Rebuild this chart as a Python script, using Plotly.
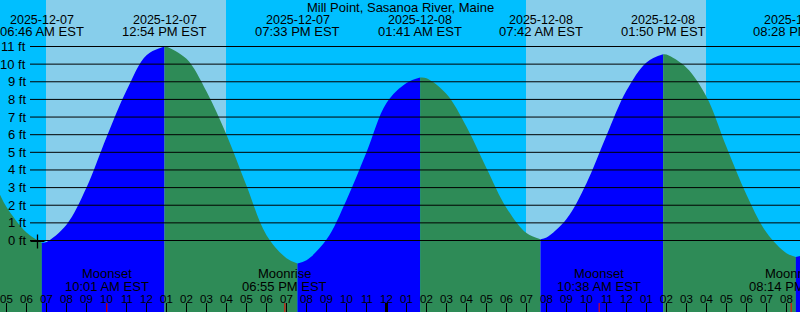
import plotly.graph_objects as go

# ---------------- data ----------------
title_text = "Mill Point, Sasanoa River, Maine"

# hours counted from 2025-12-07 00:00 EST
hours = [4.675, 5, 6, 6.767, 7, 8, 9, 10, 11, 12, 12.9, 13, 14, 15, 16, 17, 18, 19,
         19.55, 20, 21, 22, 23, 24, 25, 25.683, 26, 27, 28, 29, 30, 31, 31.7, 32,
         33, 34, 35, 36, 37, 37.833, 38, 39, 40, 41, 42, 43, 44, 44.467, 44.675]
heights_ft = [2.6, 1.9, 0.45, -0.13, -0.08, 0.9, 3.0, 5.85, 8.5, 10.5, 11.0, 10.99,
              10.3, 8.45, 6.0, 3.1, 0.3, -1.0, -1.3, -1.12, 0.05, 2.3, 5.0, 7.8, 8.93,
              9.24, 9.2, 8.3, 6.45, 4.1, 1.85, 0.42, 0.07, 0.17, 1.22, 3.25, 5.95, 8.5,
              10.1, 10.56, 10.54, 9.8, 8.15, 5.3, 2.6, 0.45, -0.72, -0.93, -0.88]

extreme_hours = [6.767, 12.9, 19.55, 25.683, 31.7, 37.833, 44.467]
extreme_dates = ["2025-12-07", "2025-12-07", "2025-12-07", "2025-12-08",
                 "2025-12-08", "2025-12-08", "2025-12-08"]
extreme_times = ["06:46 AM EST", "12:54 PM EST", "07:33 PM EST", "01:41 AM EST",
                 "07:42 AM EST", "01:50 PM EST", "08:28 PM EST"]

sunrise_hours = [6.975, 30.975]
sunset_hours = [15.975, 39.975]

moon_hours = [10.017, 18.917, 34.633, 44.233]
moon_events = ["Moonset", "Moonrise", "Moonset", "Moonrise"]
moon_times = ["10:01 AM EST", "06:55 PM EST", "10:38 AM EST", "08:14 PM EST"]

level_ticks = list(range(0, 12))
level_labels = [f"{v} ft" for v in level_ticks]

hour_ticks = list(range(5, 45))
hour_labels = [f"{(h % 12) or 12:02d}" for h in hour_ticks]
midnight_hours = [24]

now_marker_hour = [6.55]
now_marker_ft = [-0.05]

# ---------------- styling ----------------
W, H = 800, 312
X_RANGE = [4.675, 44.675]
Y_RANGE = [-4.054, 13.637]
NIGHT = "#00BFFF"
DAY = "#87CEEB"
RISING = "#0000FF"
FALLING = "#2E8B57"
FONT = "Liberation Sans"


def py(pix):
    """pixel row from top -> paper y"""
    return 1 - pix / H


fig = go.Figure()

# tide fill, split at each extreme into rising / falling segments
bounds = [hours[0]] + extreme_hours + [hours[-1]]
for a, b in zip(bounds[:-1], bounds[1:]):
    idx = [i for i, t in enumerate(hours) if a <= t <= b]
    if len(idx) < 2:
        continue
    xs = [hours[i] for i in idx]
    ys = [heights_ft[i] for i in idx]
    color = RISING if ys[-1] > ys[0] else FALLING
    fig.add_trace(go.Scatter(x=[xs[0], xs[-1]], y=[Y_RANGE[0] - 1] * 2, mode="lines",
                             line=dict(width=0), hoverinfo="skip", showlegend=False))
    fig.add_trace(go.Scatter(x=xs, y=ys, mode="lines", fill="tonexty", fillcolor=color,
                             line=dict(width=0, shape="spline", smoothing=1, color=color),
                             hoverinfo="skip", showlegend=False))

fig.add_trace(go.Scatter(x=now_marker_hour, y=now_marker_ft, mode="markers",
                         marker=dict(symbol="cross-thin", size=10,
                                     line=dict(color="black", width=1.3)),
                         hoverinfo="skip", showlegend=False))

shapes = []
# daylight bands
for sr, ss in zip(sunrise_hours, sunset_hours):
    shapes.append(dict(type="rect", xref="x", yref="paper", x0=sr, x1=ss, y0=0, y1=1,
                       fillcolor=DAY, line=dict(width=0), layer="below"))
# level lines
for v in level_ticks:
    shapes.append(dict(type="line", xref="paper", yref="y", x0=30 / W, x1=1, y0=v, y1=v,
                       line=dict(color="black", width=1), layer="above"))
# hour ticks
for h in hour_ticks:
    wdt = 3 if h in midnight_hours else 1
    shapes.append(dict(type="line", xref="x", yref="paper", x0=h, x1=h, y0=0, y1=9 / H,
                       line=dict(color="black", width=wdt), layer="above"))
# moon event ticks
for h in moon_hours:
    shapes.append(dict(type="line", xref="x", yref="paper", x0=h, x1=h, y0=0, y1=9 / H,
                       line=dict(color="red", width=1), layer="above"))

ann = []
ann.append(dict(text=title_text, x=0.5, y=py(7.5), xref="paper", yref="paper",
                xanchor="center", yanchor="middle", showarrow=False,
                font=dict(family=FONT, size=13, color="black")))
for h, d, t in zip(extreme_hours, extreme_dates, extreme_times):
    ann.append(dict(text=d, x=h, y=py(20), xref="x", yref="paper", xanchor="center",
                    yanchor="middle", showarrow=False,
                    font=dict(family=FONT, size=12.5, color="black")))
    ann.append(dict(text=t, x=h, y=py(31.8), xref="x", yref="paper", xanchor="center",
                    yanchor="middle", showarrow=False,
                    font=dict(family=FONT, size=13, color="black")))
for v, lab in zip(level_ticks, level_labels):
    ann.append(dict(text=lab, x=27.5 / W, y=v, xref="paper", yref="y", xanchor="right",
                    yanchor="middle", showarrow=False,
                    font=dict(family=FONT, size=13, color="black")))
for h, ev, t in zip(moon_hours, moon_events, moon_times):
    ann.append(dict(text=ev, x=h, y=py(273.8), xref="x", yref="paper", xanchor="center",
                    yanchor="middle", showarrow=False,
                    font=dict(family=FONT, size=13, color="black")))
    ann.append(dict(text=t, x=h, y=py(286), xref="x", yref="paper", xanchor="center",
                    yanchor="middle", showarrow=False,
                    font=dict(family=FONT, size=13, color="black")))
for h, lab in zip(hour_ticks, hour_labels):
    ann.append(dict(text=lab, x=h, y=py(298.5), xref="x", yref="paper", xanchor="center",
                    yanchor="middle", showarrow=False,
                    font=dict(family=FONT, size=11.5, color="black")))

fig.update_layout(
    width=W, height=H,
    margin=dict(l=0, r=0, t=0, b=0),
    paper_bgcolor=NIGHT, plot_bgcolor=NIGHT,
    xaxis=dict(range=X_RANGE, visible=False, fixedrange=True),
    yaxis=dict(range=Y_RANGE, visible=False, fixedrange=True),
    shapes=shapes, annotations=ann, showlegend=False,
)

fig.write_html("out.html", config={"displayModeBar": False})
